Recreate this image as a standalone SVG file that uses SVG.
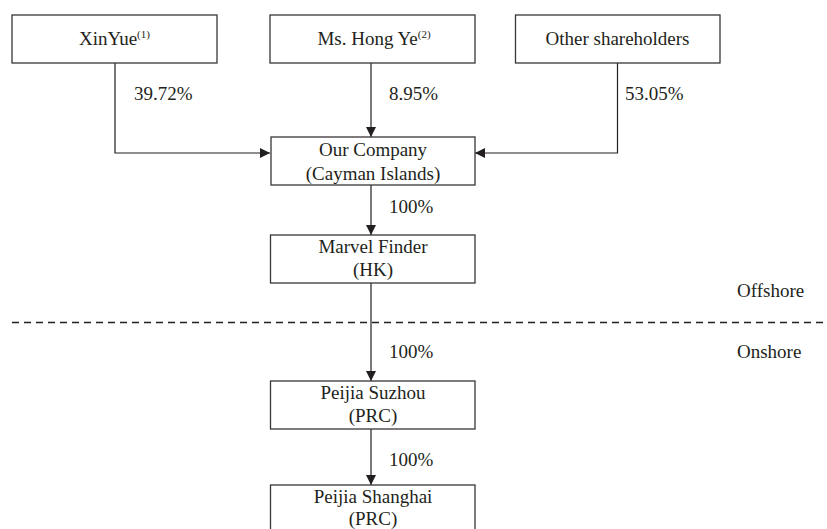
<svg xmlns="http://www.w3.org/2000/svg" width="827" height="529" viewBox="0 0 827 529">
<style>
.box{fill:#fff;stroke:#3a3536;stroke-width:1.3}
.t{font-family:"Liberation Serif","Times New Roman",serif;font-size:19px;fill:#231f20}
.c{text-anchor:middle}
.sup{font-size:11px}
.ln{fill:none;stroke:#231f20;stroke-width:1.2}
.dash{stroke:#231f20;stroke-width:1.5;stroke-dasharray:7 5}
</style>
<defs>
<marker id="ah" markerWidth="10" markerHeight="10" refX="10" refY="5" orient="auto" markerUnits="userSpaceOnUse">
<path d="M0,0 L10,5 L0,10 Z" fill="#231f20"/>
</marker>
</defs>
<rect width="827" height="529" fill="#fff"/>
<g id="connectors">
<path class="ln" d="M115,63 V153 H270" marker-end="url(#ah)"/>
<path class="ln" d="M371,63 V137" marker-end="url(#ah)"/>
<path class="ln" d="M617.5,63 V153 H475" marker-end="url(#ah)"/>
<path class="ln" d="M371,185 V235" marker-end="url(#ah)"/>
<path class="ln" d="M371,283 V381" marker-end="url(#ah)"/>
<path class="ln" d="M371,429 V485" marker-end="url(#ah)"/>
<text class="t" x="134" y="100">39.72%</text>
<text class="t" x="389" y="100">8.95%</text>
<text class="t" x="625" y="100">53.05%</text>
<text class="t" x="389" y="213">100%</text>
<text class="t" x="389" y="358">100%</text>
<text class="t" x="389" y="466">100%</text>
</g>
<g id="divider">
<line class="dash" x1="12" y1="322.5" x2="826" y2="322.5"/>
<text class="t" x="737" y="297">Offshore</text>
<text class="t" x="737" y="358">Onshore</text>
</g>
<g id="xinyue">
<rect class="box" x="12" y="15" width="205" height="48"/>
<text class="t c" x="114.5" y="45">XinYue<tspan class="sup" dy="-7">(1)</tspan></text>
</g>
<g id="hongye">
<rect class="box" x="270" y="15" width="205" height="48"/>
<text class="t c" x="374" y="45">Ms. Hong Ye<tspan class="sup" dy="-7">(2)</tspan></text>
</g>
<g id="others">
<rect class="box" x="515.5" y="15" width="204.5" height="48"/>
<text class="t c" x="617.5" y="45">Other shareholders</text>
</g>
<g id="company">
<rect class="box" x="271" y="137" width="204" height="48"/>
<text class="t c" x="373" y="156">Our Company</text>
<text class="t c" x="373" y="179.5">(Cayman Islands)</text>
</g>
<g id="marvel">
<rect class="box" x="270.5" y="235" width="204.5" height="48"/>
<text class="t c" x="373" y="253">Marvel Finder</text>
<text class="t c" x="373" y="276">(HK)</text>
</g>
<g id="suzhou">
<rect class="box" x="270.5" y="381" width="204.5" height="48"/>
<text class="t c" x="373" y="399">Peijia Suzhou</text>
<text class="t c" x="373" y="422">(PRC)</text>
</g>
<g id="shanghai">
<rect class="box" x="270.5" y="485" width="204.5" height="50"/>
<text class="t c" x="373" y="503">Peijia Shanghai</text>
<text class="t c" x="373" y="525">(PRC)</text>
</g>
</svg>
